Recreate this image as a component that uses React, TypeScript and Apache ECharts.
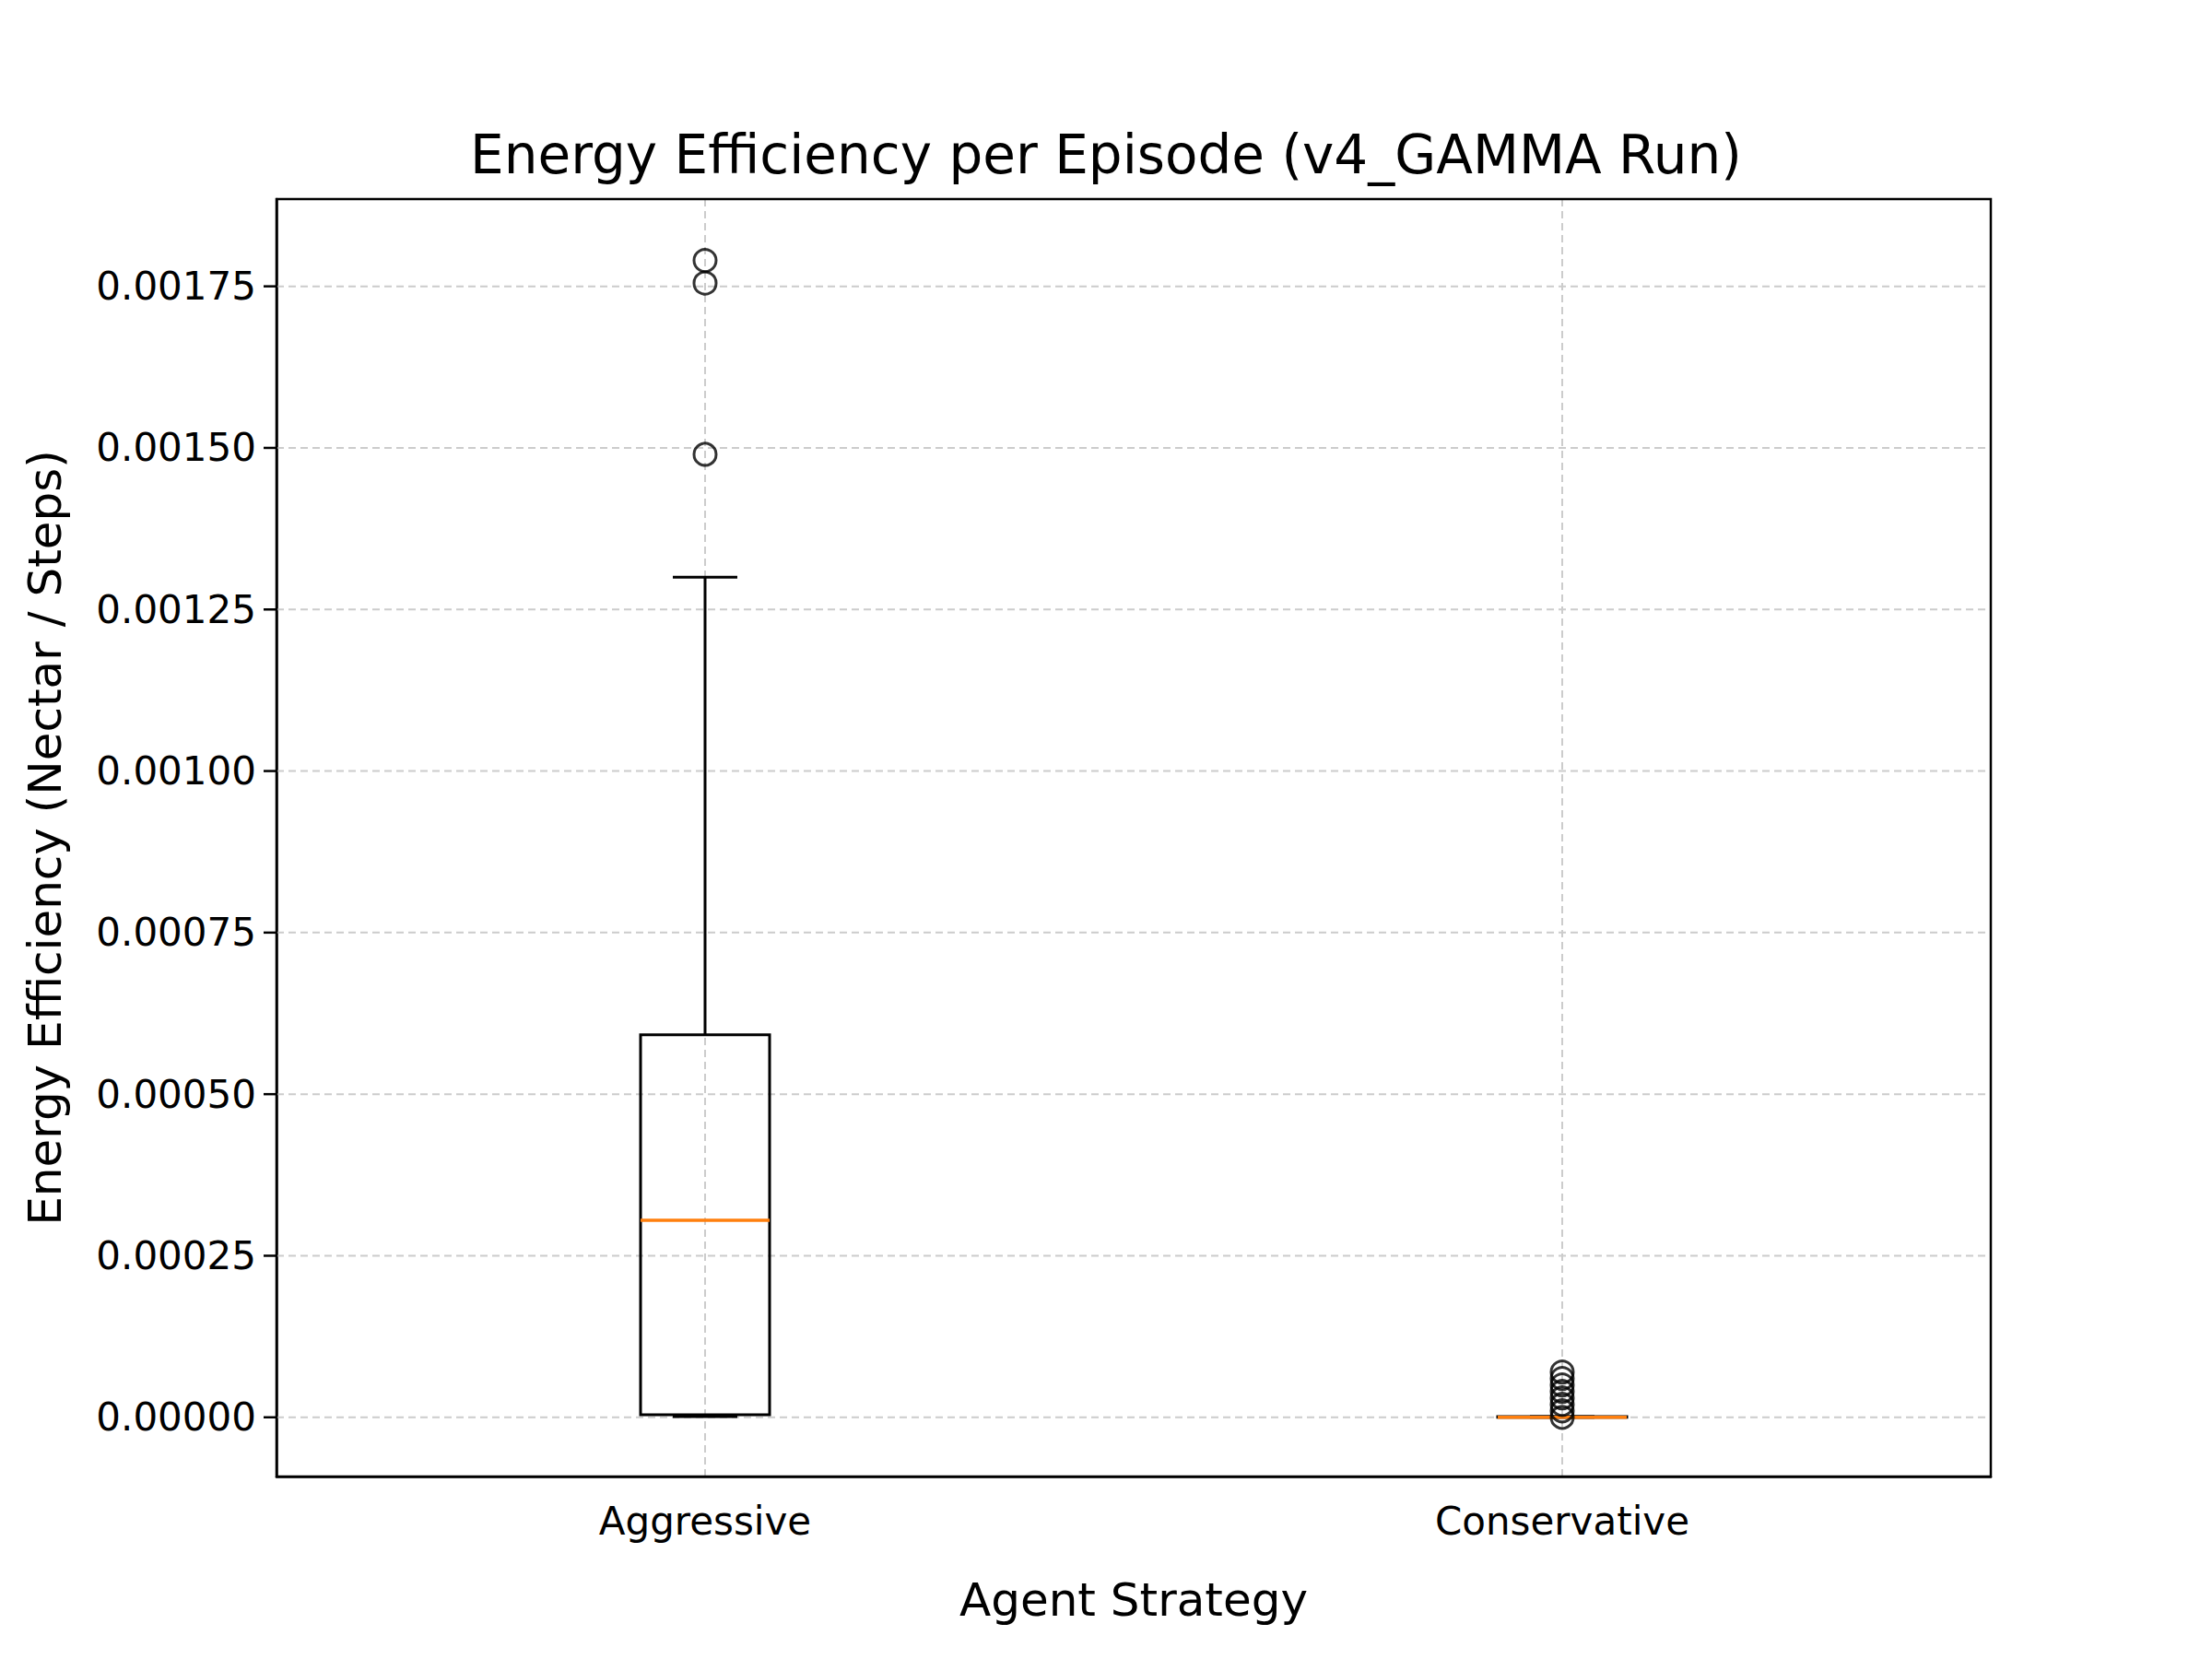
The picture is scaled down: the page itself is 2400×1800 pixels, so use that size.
import React, { useEffect, useRef } from 'react';
import * as echarts from 'echarts';

const categories = ['Aggressive', 'Conservative'];
// [min, q1, median, q3, max]
const boxStats = [
  [0.000001, 0.000004, 0.000305, 0.000592, 0.0013],
  [0.0, 0.0, 0.0, 0.000001, 0.000001],
];
const outliers = [
  [0, 0.00149], [0, 0.001755], [0, 0.00179],
  [1, 0.0], [1, 0.00001], [1, 0.00002], [1, 0.00003], [1, 0.00004],
  [1, 0.00005], [1, 0.00006], [1, 0.00007],
];
const yTicks = [0, 0.00025, 0.0005, 0.00075, 0.001, 0.00125, 0.0015, 0.00175];
const yMin = -0.0000916;
const yMax = 0.001885;

const FONT = 'DejaVu Sans';

const App: React.FC = () => {
  const chartRef = useRef<HTMLDivElement>(null);

  useEffect(() => {
    document.body.style.margin = '0';
    if (!chartRef.current) return;
    const chart = echarts.init(chartRef.current, undefined, { renderer: 'svg' });

    const option = {
      animation: false,
      backgroundColor: '#fff',
      title: {
        text: 'Energy Efficiency per Episode (v4_GAMMA Run)',
        left: 'center',
        top: 134,
        textStyle: { fontFamily: FONT, fontSize: 58, fontWeight: 'normal', color: '#000' },
      },
      grid: { left: 300, right: 240, top: 216, bottom: 198 },
      xAxis: {
        type: 'category',
        data: categories,
        name: 'Agent Strategy',
        nameLocation: 'middle',
        nameGap: 109,
        nameTextStyle: { fontFamily: FONT, fontSize: 50, color: '#000' },
        axisLine: { onZero: false, lineStyle: { color: '#000', width: 2.5 } },
        axisTick: { alignWithLabel: true, length: 14, lineStyle: { color: '#000', width: 2.5 } },
        axisLabel: { fontFamily: FONT, fontSize: 42, color: '#000', margin: 27 },
        splitLine: { show: false },
      },
      yAxis: {
        type: 'value',
        min: yMin,
        max: yMax,
        name: 'Energy Efficiency (Nectar / Steps)',
        nameLocation: 'middle',
        nameGap: 226,
        nameTextStyle: { fontFamily: FONT, fontSize: 50, color: '#000' },
        axisLine: { show: true, lineStyle: { color: '#000', width: 2.5 } },
        axisTick: { show: false },
        axisLabel: { show: false },
        splitLine: { show: false },
      },
      series: [
        {
          type: 'custom',
          silent: true,
          z: 1,
          data: yTicks.map((v) => [0, v]),
          renderItem: (params: any, api: any) => {
            const cs = params.coordSys;
            const v = api.value(1);
            const y = api.coord([0, v])[1];
            const children: any[] = [
              { type: 'line', shape: { x1: cs.x, y1: y, x2: cs.x + cs.width, y2: y },
                style: { stroke: '#cccccc', lineWidth: 2, lineDash: [8, 5] } },
              { type: 'line', shape: { x1: cs.x - 14, y1: y, x2: cs.x, y2: y },
                style: { stroke: '#000', lineWidth: 2.5 } },
              { type: 'text', x: cs.x - 22, y,
                style: { text: v.toFixed(5), fontFamily: FONT, fontSize: 42, fill: '#000', align: 'right', verticalAlign: 'middle' } },
            ];
            if (params.dataIndex < categories.length) {
              const x = api.coord([params.dataIndex, 0])[0];
              children.push({ type: 'line', shape: { x1: x, y1: cs.y, x2: x, y2: cs.y + cs.height },
                style: { stroke: '#cccccc', lineWidth: 2, lineDash: [8, 5] } });
            }
            if (params.dataIndex === 0) {
              children.push({ type: 'rect', z2: 10, shape: { x: cs.x, y: cs.y, width: cs.width, height: cs.height },
                style: { fill: 'none', stroke: '#000', lineWidth: 2.5 } });
            }
            return { type: 'group', children };
          },
        },
        {
          type: 'custom',
          z: 3,
          data: boxStats.map((s, i) => [i, ...s]),
          renderItem: (params: any, api: any) => {
            const i = api.value(0);
            const [mn, q1, md, q3, mx] = [1, 2, 3, 4, 5].map((k) => api.value(k));
            const x = api.coord([i, 0])[0];
            const yy = (v: number) => api.coord([i, v])[1];
            const hw = 70;
            const cw = 35;
            const stroke = { stroke: '#000', lineWidth: 3 };
            return {
              type: 'group',
              children: [
                { type: 'line', shape: { x1: x, y1: yy(q3), x2: x, y2: yy(mx) }, style: stroke },
                { type: 'line', shape: { x1: x, y1: yy(q1), x2: x, y2: yy(mn) }, style: stroke },
                { type: 'line', shape: { x1: x - cw, y1: yy(mx), x2: x + cw, y2: yy(mx) }, style: stroke },
                { type: 'line', shape: { x1: x - cw, y1: yy(mn), x2: x + cw, y2: yy(mn) }, style: stroke },
                { type: 'rect', shape: { x: x - hw, y: yy(q3), width: 2 * hw, height: yy(q1) - yy(q3) },
                  style: { fill: 'none', ...stroke } },
                { type: 'line', shape: { x1: x - hw, y1: yy(md), x2: x + hw, y2: yy(md) },
                  style: { stroke: '#ff7f0e', lineWidth: 3.5 } },
              ],
            };
          },
        },
        {
          type: 'scatter',
          z: 4,
          data: outliers,
          symbol: 'circle',
          symbolSize: 24,
          itemStyle: { color: 'none', borderColor: '#000', borderWidth: 3 },
        },
      ],
    };

    chart.setOption(option as any);
    return () => chart.dispose();
  }, []);

  return <div ref={chartRef} style={{ width: 2400, height: 1800 }} />;
};

export default App;
